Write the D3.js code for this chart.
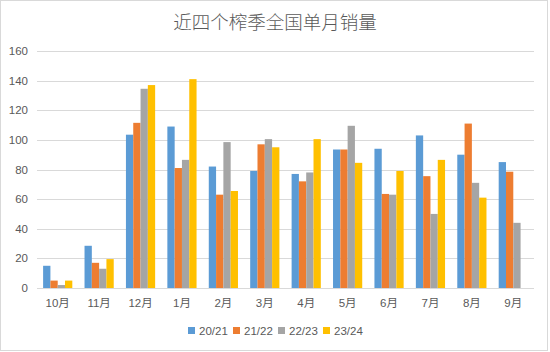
<!DOCTYPE html>
<html>
<head>
<meta charset="utf-8">
<script src="https://cdn.jsdelivr.net/npm/d3@7"></script>
<style>
  body { margin: 0; background: #fff; }
  text { font-family: "Liberation Sans", "Noto Sans CJK SC", sans-serif; fill: #595959; }
  .title { font-family: "Noto Sans CJK SC", sans-serif; font-weight: 300; }
</style>
</head>
<body>
<div id="chart"></div>
<script>
const months = ["10月", "11月", "12月", "1月", "2月", "3月", "4月", "5月", "6月", "7月", "8月", "9月"];
const seasons = ["20/21", "21/22", "22/23", "23/24"];
const s2021 = [15, 28.5, 103.5, 109, 82, 79, 77, 93.5, 94, 103, 90, 85];
const s2122 = [5, 17, 111.5, 81, 63, 97, 72, 93.5, 63.5, 75.5, 111, 78.5];
const s2223 = [2, 13, 134.5, 86.5, 98.5, 100.5, 78, 109.5, 63, 50, 71, 44];
const s2324 = [5, 19.5, 137, 141, 65.5, 95, 100.5, 84.5, 79, 86.5, 61, null];
const colors = ["#5B9BD5", "#ED7D31", "#A5A5A5", "#FFC000"];
const yTicks = [0, 20, 40, 60, 80, 100, 120, 140, 160];

const allSeries = [s2021, s2122, s2223, s2324];
const W = 550, H = 352;
const plot = {left: 37, right: 534, top: 51, bottom: 288};

const svg = d3.select("#chart").append("svg").attr("width", W).attr("height", H);

svg.append("rect").attr("x", 0.5).attr("y", 0.5).attr("width", W - 3).attr("height", H - 2)
    .attr("fill", "#fff").attr("stroke", "#d9d9d9");

const x0 = d3.scaleBand().domain(months).range([plot.left, plot.right]).paddingInner(0.295).paddingOuter(0.1475);
const x1 = d3.scaleBand().domain(seasons).range([0, x0.bandwidth()]);
const y = d3.scaleLinear().domain([0, 160]).range([plot.bottom, plot.top]);

// gridlines
svg.append("g").selectAll("line").data(yTicks).enter().append("line")
    .attr("x1", plot.left).attr("x2", plot.right)
    .attr("y1", d => Math.round(y(d)) + 0.5).attr("y2", d => Math.round(y(d)) + 0.5)
    .attr("stroke", "#d9d9d9").attr("stroke-width", 1);

// y labels
svg.append("g").selectAll("text").data(yTicks).enter().append("text")
    .attr("x", 28).attr("y", d => y(d) + 4).attr("text-anchor", "end")
    .attr("font-size", 11.5).text(d => d);

// bars
seasons.forEach((s, i) => {
    svg.append("g").selectAll("rect").data(months.map((m, j) => ({m, v: allSeries[i][j]})).filter(d => d.v != null))
        .enter().append("rect")
        .attr("x", d => x0(d.m) + x1(s))
        .attr("y", d => y(d.v))
        .attr("width", x1.bandwidth())
        .attr("height", d => y(0) - y(d.v))
        .attr("fill", colors[i]);
});

// x labels
svg.append("g").selectAll("text").data(months).enter().append("text")
    .attr("x", d => x0(d) + x0.bandwidth() / 2).attr("y", 307)
    .attr("text-anchor", "middle").attr("font-size", 11.5).text(d => d);

// title
svg.append("text").attr("class", "title").attr("x", 275).attr("y", 29)
    .attr("text-anchor", "middle").attr("font-size", 18.5).text("近四个榨季全国单月销量");

// legend
const legendX = [188, 233, 278, 323];
const lg = svg.append("g").selectAll("g").data(seasons).enter().append("g")
    .attr("transform", (d, i) => `translate(${legendX[i]},331)`);
lg.append("rect").attr("x", 0).attr("y", -4).attr("width", 7).attr("height", 7).attr("fill", (d, i) => colors[i]);
lg.append("text").attr("x", 11).attr("y", 4).attr("font-size", 11.5).text(d => d);
</script>
</body>
</html>
